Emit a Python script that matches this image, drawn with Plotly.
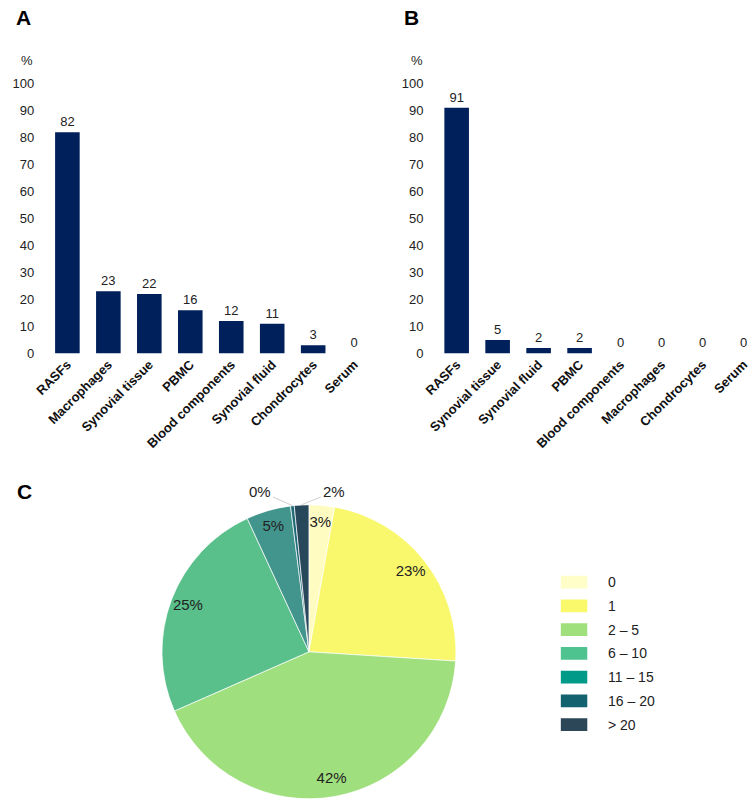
import math
import plotly.graph_objects as go

# ---- data ----
cats_a = ["RASFs", "Macrophages", "Synovial tissue", "PBMC", "Blood components",
          "Synovial fluid", "Chondrocytes", "Serum"]
vals_a = [82, 23, 22, 16, 12, 11, 3, 0]

cats_b = ["RASFs", "Synovial tissue", "Synovial fluid", "PBMC", "Blood components",
          "Macrophages", "Chondrocytes", "Serum"]
vals_b = [91, 5, 2, 2, 0, 0, 0, 0]

pie_labels = ["0", "1", "2 \u2013 5", "6 \u2013 10", "11 \u2013 15", "16 \u2013 20", "> 20"]
pie_values = [2.8, 23.2, 42.4, 24.7, 4.9, 0.4, 1.6]

yticks = list(range(0, 101, 10))

# ---- styles ----
pie_colors = ["#FFFCC2", "#F9F86C", "#A0DF7E", "#59BF8B", "#42958C", "#1E6A76", "#27475A"]
legend_colors = ["#FFFDC8", "#FAF86B", "#9FE07C", "#4EC28F", "#009A89", "#13626F", "#2C4757"]
# label offsets (pixels) for slices labelled outside with a leader line
outside_style = {"16 \u2013 20": (-32, -14), "> 20": (32, -13)}
inside_r = 0.88
PIE_CX, PIE_CY, PIE_R = 302, 657, 150   # pixel centre / radius of the pie area

FONT = "Liberation Sans, Arial, sans-serif"
NAVY = "#00205B"
W, H = 750, 808


def py(p):
    return 1 - p / H


fig = go.Figure()

fig.add_trace(go.Bar(x=cats_a, y=vals_a, marker=dict(color=NAVY, line=dict(width=0)),
                     text=vals_a, textposition="outside", cliponaxis=False,
                     textfont=dict(size=13, color="#222", family=FONT),
                     xaxis="x", yaxis="y", showlegend=False, hoverinfo="x+y"))
fig.add_trace(go.Bar(x=cats_b, y=vals_b, marker=dict(color=NAVY, line=dict(width=0)),
                     text=vals_b, textposition="outside", cliponaxis=False,
                     textfont=dict(size=13, color="#222", family=FONT),
                     xaxis="x2", yaxis="y2", showlegend=False, hoverinfo="x+y"))

# ---- pie drawn on a polar subplot ----
total = sum(pie_values)
widths, mids, cum = [], [], 0.0
for v in pie_values:
    widths.append(v / total * 360)
    mids.append((cum + v / 2) / total * 360)
    cum += v
pct_text = ["%d%%" % round(v / total * 100) for v in pie_values]

fig.add_trace(go.Barpolar(theta=mids, r=[1] * len(pie_values), width=widths,
                          marker=dict(color=pie_colors, line=dict(color="white", width=0.7)),
                          hovertext=pie_labels, hoverinfo="text", showlegend=False,
                          subplot="polar"))

in_theta, in_r, in_text = [], [], []
ann = []
for lab, m, t in zip(pie_labels, mids, pct_text):
    if lab in outside_style:
        axp, ayp = outside_style[lab]
        ex = PIE_CX + PIE_R * math.sin(math.radians(m))
        ey = PIE_CY - PIE_R * math.cos(math.radians(m))
        ann.append(dict(text=t, x=ex / W, y=py(ey), xref="paper", yref="paper",
                        showarrow=True, arrowhead=0, arrowwidth=1, arrowcolor="#CFCFCF",
                        ax=axp, ay=ayp, standoff=0,
                        font=dict(size=15, color="#222", family=FONT)))
    else:
        in_theta.append(m)
        in_r.append(inside_r)
        in_text.append(t)

fig.add_trace(go.Scatterpolar(theta=in_theta, r=in_r, text=in_text, mode="text",
                              textfont=dict(size=15, color="#222", family=FONT),
                              hoverinfo="skip", showlegend=False, cliponaxis=False,
                              subplot="polar"))

axis_common = dict(showgrid=False, zeroline=False, showline=False)
ycommon = dict(range=[0, 100], tickvals=yticks, ticks="outside", ticklen=9,
               tickcolor="rgba(0,0,0,0)", tickfont=dict(size=13, color="#222", family=FONT),
               **axis_common)
xcommon = dict(tickangle=-45, ticks="", tickfont=dict(size=13, color="#111", family=FONT),
               **axis_common)

fig.update_layout(
    width=W, height=H,
    margin=dict(l=0, r=0, t=0, b=0),
    paper_bgcolor="white", plot_bgcolor="white",
    bargap=0.4,
    font=dict(family=FONT, color="#222"),
    xaxis=dict(domain=[34.6 / W, 369 / W], anchor="y", range=[-0.5, 7.5],
               tickvals=cats_a, ticktext=["<b>%s</b>" % c for c in cats_a], **xcommon),
    yaxis=dict(domain=[py(353), py(78)], anchor="x", **ycommon),
    xaxis2=dict(domain=[431.8 / W, 1.0], anchor="y2", range=[-0.5, 7.11],
                tickvals=cats_b, ticktext=["<b>%s</b>" % c for c in cats_b], **xcommon),
    yaxis2=dict(domain=[py(353), py(78)], anchor="x2", **ycommon),
    polar=dict(domain=dict(x=[(PIE_CX - PIE_R) / W, (PIE_CX + PIE_R) / W],
                           y=[py(PIE_CY + PIE_R), py(PIE_CY - PIE_R)]),
               bgcolor="rgba(0,0,0,0)", bargap=0, hole=0,
               radialaxis=dict(visible=False, range=[0, 1]),
               angularaxis=dict(visible=False, rotation=90, direction="clockwise")),
)

for txt, x, y in [("A", 1, 11), ("B", 397, 11), ("C", 2, 494)]:
    ann.append(dict(text="<b>%s</b>" % txt, x=x / W, y=py(y), xref="paper", yref="paper",
                    xanchor="left", yanchor="middle", showarrow=False,
                    font=dict(size=21, color="#000", family=FONT)))
for x in [14, 412]:
    ann.append(dict(text="%", x=x / W, y=py(55), xref="paper", yref="paper",
                    xanchor="center", yanchor="middle", showarrow=False,
                    font=dict(size=13, color="#222", family=FONT)))

# legend for the pie
shapes = []
for i, (lab, col) in enumerate(zip(pie_labels, legend_colors)):
    cy = 586 + 24.2 * i
    shapes.append(dict(type="rect", xref="paper", yref="paper",
                       x0=559 / W, x1=586 / W, y0=py(cy + 6.5), y1=py(cy - 6.5),
                       fillcolor=col, line=dict(width=0)))
    ann.append(dict(text=lab, x=605 / W, y=py(cy), xref="paper", yref="paper",
                    xanchor="left", yanchor="middle", showarrow=False,
                    font=dict(size=14, color="#222", family=FONT)))

fig.update_layout(annotations=ann, shapes=shapes)

fig.write_html("out.html", config={"displayModeBar": False},
               post_script="document.body.style.margin='0px';"
                           "document.body.style.padding='0px';"
                           "document.documentElement.style.overflow='hidden';")
